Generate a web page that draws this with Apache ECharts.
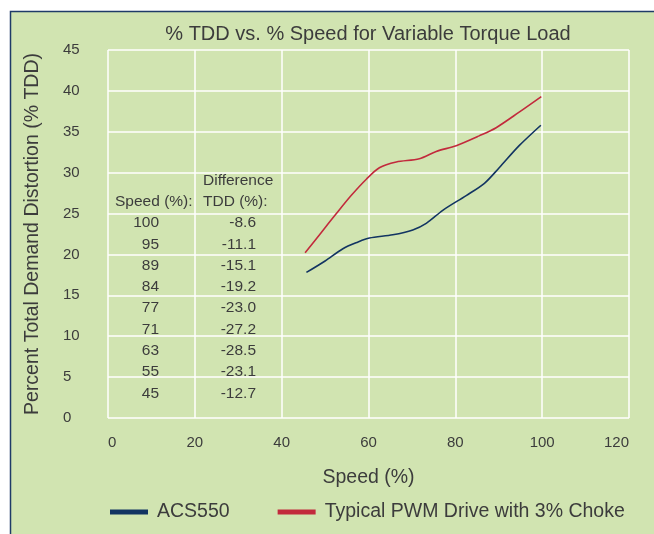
<!DOCTYPE html>
<html>
<head>
<meta charset="utf-8">
<script src="https://cdn.jsdelivr.net/npm/echarts@6/dist/echarts.min.js"></script>
<style>
  html, body { margin: 0; padding: 0; background: #ffffff; }
  #chart { width: 654px; height: 534px; }
</style>
</head>
<body>
<div id="chart"></div>
<script>
// Speed (%) vs. TDD (%) curves
const acs550 = [
  [45.7, 17.8], [50.0, 19.2], [54.1, 20.7], [57.5, 21.5], [60.2, 22.0],
  [65.6, 22.4], [70.2, 23.0], [73.3, 23.8], [77.1, 25.4], [82.5, 27.2],
  [86.7, 28.7], [90.1, 30.6], [94.7, 33.3], [99.7, 35.8]
];
const pwmChoke = [
  [45.4, 20.2], [49.0, 22.6], [52.6, 25.0], [56.0, 27.2], [59.5, 29.2],
  [62.5, 30.6], [66.4, 31.3], [71.7, 31.7], [75.6, 32.6], [80.2, 33.3],
  [85.5, 34.5], [89.4, 35.5], [94.7, 37.4], [99.8, 39.3]
];

// Difference table
const tableSpeed = ['100', '95', '89', '84', '77', '71', '63', '55', '45'];
const tableDiff = ['-8.6', '-11.1', '-15.1', '-19.2', '-23.0', '-27.2', '-28.5', '-23.1', '-12.7'];

const seriesNames = ['ACS550', 'Typical PWM Drive with 3% Choke'];
const seriesColors = ['#123462', '#c22a3c'];

const textColor = '#3c3c3c';
const font = '"Liberation Sans", Arial, sans-serif';
const tableFont = '15.5px ' + font;

const tableGraphics = [];
function tableText(x, y, text, align) {
  tableGraphics.push({
    type: 'text', x: x, y: y, z: 100,
    style: { text: text, fill: textColor, font: tableFont, align: align, verticalAlign: 'middle' }
  });
}
tableText(115, 202, 'Speed (%):', 'left');
tableText(203, 181, 'Difference', 'left');
tableText(203, 202, 'TDD (%):', 'left');
tableSpeed.forEach((s, i) => {
  const y = 223 + i * 21.3;
  tableText(159, y, s, 'right');
  tableText(256, y, tableDiff[i], 'right');
});

const chart = echarts.init(document.getElementById('chart'));
chart.setOption({
  backgroundColor: '#ffffff',
  animation: false,
  graphic: [
    {
      type: 'rect', z: -10, silent: true,
      shape: { x: 10.5, y: 11.5, width: 700, height: 600 },
      style: { fill: '#d1e4b1', stroke: '#1f3b68', lineWidth: 1.5 }
    }
  ].concat(tableGraphics),
  title: {
    text: '% TDD vs. % Speed for Variable Torque Load',
    left: 363, top: 19, textAlign: 'center',
    textStyle: { color: textColor, fontSize: 20, fontWeight: 'normal', fontFamily: font }
  },
  legend: {
    left: 105, top: 497,
    icon: 'rect', itemWidth: 38, itemHeight: 5, itemGap: 48,
    textStyle: { color: textColor, fontSize: 19.5, fontFamily: font, padding: [0, 0, 0, 4] },
    data: seriesNames
  },
  grid: { left: 108, right: 25, top: 50, bottom: 116 },
  xAxis: {
    type: 'value', min: 0, max: 120, interval: 20,
    name: 'Speed (%)', nameLocation: 'middle', nameGap: 50,
    nameTextStyle: { color: textColor, fontSize: 19.5, fontFamily: font },
    axisLine: { show: false }, axisTick: { show: false },
    axisLabel: { color: textColor, fontSize: 15, fontFamily: font, margin: 17, alignMinLabel: 'left', alignMaxLabel: 'right' },
    splitLine: { show: true, lineStyle: { color: '#ffffff', width: 1.5 } }
  },
  yAxis: {
    type: 'value', min: 0, max: 45, interval: 5,
    name: 'Percent Total Demand Distortion (% TDD)', nameLocation: 'middle', nameGap: 65,
    nameTextStyle: { color: textColor, fontSize: 19.5, fontFamily: font },
    axisLine: { show: false }, axisTick: { show: false },
    axisLabel: { color: textColor, fontSize: 15, fontFamily: font, margin: 45, align: 'left' },
    splitLine: { show: true, lineStyle: { color: '#ffffff', width: 1.5 } }
  },
  series: [
    {
      name: seriesNames[0], type: 'line', data: acs550, smooth: 0.3,
      showSymbol: false, color: seriesColors[0], lineStyle: { width: 1.6 }
    },
    {
      name: seriesNames[1], type: 'line', data: pwmChoke, smooth: 0.3,
      showSymbol: false, color: seriesColors[1], lineStyle: { width: 1.6 }
    }
  ]
});
</script>
</body>
</html>
